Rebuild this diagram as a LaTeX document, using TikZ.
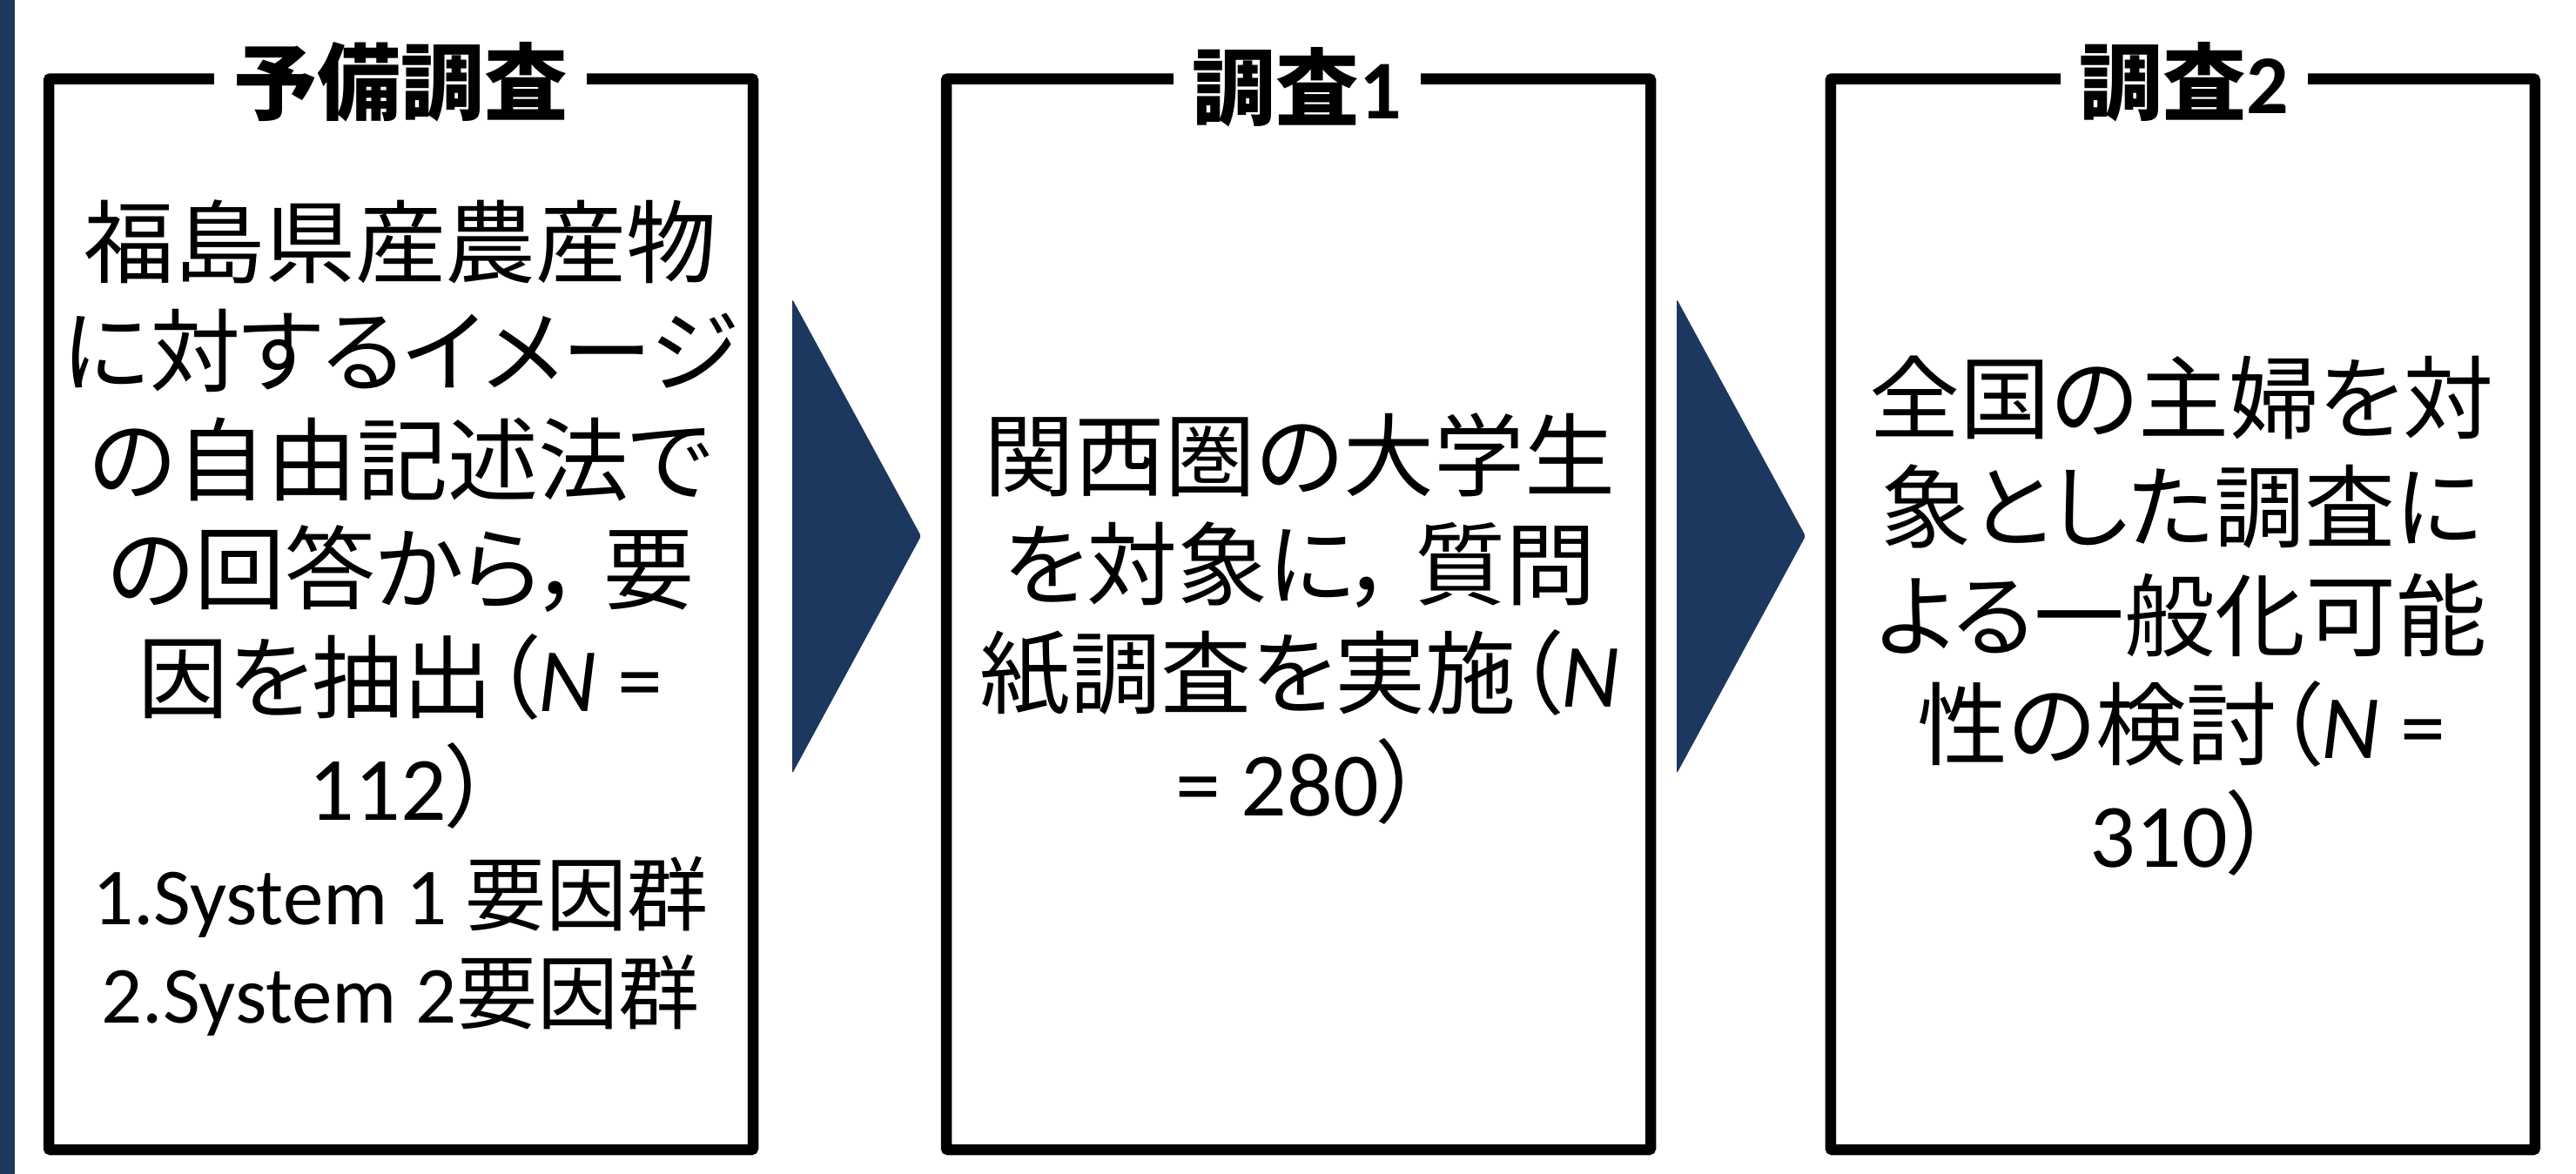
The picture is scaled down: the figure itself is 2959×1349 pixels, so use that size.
\documentclass[tikz,border=0pt]{standalone}
\usepackage{fontspec}
\setmainfont{Noto Sans CJK JP}
\newfontfamily\jpbody{Noto Sans CJK JP}[RawFeature=+palt]
\newfontfamily\lat{Carlito}
\newcommand\smallsz{\fontsize{93}{113}\selectfont}
\newcommand\jcomma{，\hspace{22pt}}
\definecolor{navy}{RGB}{28,56,94}
\tikzset{
  frame/.style={draw=black, line width=12.5pt, rounded corners=2pt, minimum width=809pt, minimum height=1230.5pt, inner sep=0pt},
  ttl/.style={font=\bfseries\fontsize{96}{110}\selectfont, fill=white, inner xsep=22pt, inner ysep=2pt},
  body/.style={font=\jpbody\fontsize{104}{125}\selectfont, align=center, inner sep=0pt},
  chev/.style={fill=navy, rounded corners=3pt}
}
\begin{document}
\begin{tikzpicture}[x=1pt,y=-1pt]
\useasboundingbox (0,0) rectangle (2959,1349);
\fill[navy] (0,0) rectangle (17,1349);
% frames
\node[frame] (f1) at (460.5,705.75) {};
\node[frame] (f2) at (1491.5,705.75) {};
\node[frame] (f3) at (2507.25,705.75) {};
% titles
\node[ttl] (t1) at (460,94) {予備調査};
\node[ttl] (t2) at (1490,100) {調査{\lat\bfseries 1}};
\node[ttl] (t3) at (2509,94) {調査{\lat\bfseries 2}};
% chevrons
\fill[chev] (910,343.5) -- (1058,616) -- (910,889) -- cycle;
\fill[chev] (1926,343.5) -- (2074,616) -- (1926,889) -- cycle;
% body texts
\node[body] (b1) at (460,710) {福島県産農産物\\に対するイメージ\\の自由記述法で\\の回答から\jcomma 要\\因を抽出（{\lat{\itshape N} =}\\{\lat 112}）\\[-5pt]{\smallsz{\lat 1.System 1 }要因群}\\[-12pt]{\smallsz{\lat 2.System 2}要因群}};
\node[body] (b2) at (1493,711) {関西圏の大学生\\を対象に\jcomma 質問\\紙調査を実施（{\lat\itshape N}\\{\lat = 280}）};
\node[body] (b3) at (2506,708) {全国の主婦を対\\象とした調査に\\よる一般化可能\\性の検討（{\lat{\itshape N} =}\\{\lat 310}）};
\end{tikzpicture}
\end{document}
